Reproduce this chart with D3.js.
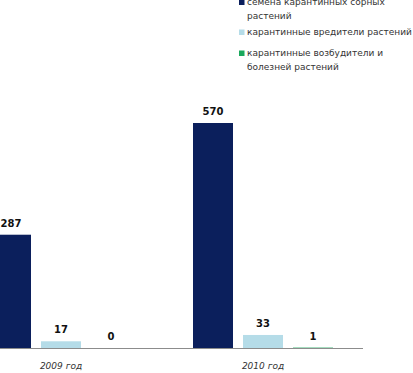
<!DOCTYPE html>
<html>
<head>
<meta charset="utf-8">
<script src="https://cdn.jsdelivr.net/npm/d3@7"></script>
<style>
  body { margin: 0; background: #fff; }
  svg { display: block; font-family: "DejaVu Sans", Verdana, sans-serif; }
</style>
</head>
<body>
<svg id="chart" width="413" height="373"></svg>
<script>
// data
var years = ["2009 год", "2010 год"];
var seriesNames = [
  "семена карантинных сорных растений",
  "карантинные вредители растений",
  "карантинные возбудители и болезней растений"
];
var seeds = [287, 570];
var pests = [17, 33];
var diseases = [0, 1];
var colors = ["#0b1f5c", "#b5dce8", "#1aa85c"];

var seriesValues = [seeds, pests, diseases];

var svg = d3.select("#chart");
var baseY = 348;

// scales
var x0 = d3.scaleBand().domain(years).range([-40, 364]).paddingInner(0);
var groupW = 140;
var x1 = d3.scaleBand().domain(d3.range(seriesNames.length))
  .range([0, groupW]).paddingInner(0.2).paddingOuter(0);
var y = d3.scaleLinear().domain([0, 570]).range([baseY, 123]);

var rows = [];
years.forEach(function(yr, i) {
  seriesValues.forEach(function(vals, s) {
    rows.push({year: yr, s: s, v: vals[i]});
  });
});

function barX(d) {
  return x0(d.year) + (x0.bandwidth() - groupW) / 2 + x1(d.s);
}

svg.append("g").selectAll("rect")
  .data(rows)
  .enter().append("rect")
  .attr("x", barX)
  .attr("y", function(d) { return y(d.v); })
  .attr("width", x1.bandwidth())
  .attr("height", function(d) { return baseY - y(d.v); })
  .attr("fill", function(d) { return colors[d.s]; });

// value labels
svg.append("g").selectAll("text")
  .data(rows)
  .enter().append("text")
  .attr("x", function(d) { return barX(d) + x1.bandwidth() / 2; })
  .attr("y", function(d) { return y(d.v) - 8; })
  .attr("text-anchor", "middle")
  .attr("font-size", 10)
  .attr("font-weight", "bold")
  .attr("fill", "#111")
  .text(function(d) { return d.v; });

// axis
var xAxis = d3.axisBottom(x0).tickSize(0).tickPadding(15);
var ax = svg.append("g").attr("transform", "translate(0," + baseY + ")").call(xAxis);
ax.select(".domain").attr("d", "M0,0.5H363").attr("stroke", "#8c8c8c");
ax.selectAll("text")
  .attr("font-size", 9)
  .attr("font-style", "italic")
  .attr("font-family", "DejaVu Sans, sans-serif")
  .attr("fill", "#333");

// legend
var legendX = 239, lineH = 13.5;
var legendY = [5, 35, 56];
var legend = svg.append("g");
seriesNames.forEach(function(name, i) {
  var g = legend.append("g").attr("transform", "translate(" + legendX + "," + legendY[i] + ")");
  g.append("rect").attr("x", 0).attr("y", -5.5).attr("width", 5.5).attr("height", 5.5)
    .attr("fill", colors[i]);
  var t = g.append("text").attr("x", 8).attr("y", 0)
    .attr("font-size", 9).attr("fill", "#333");
  // wrap words
  var words = name.split(" "), line = [];
  var ts = t.append("tspan").attr("x", 8).attr("dy", 0);
  words.forEach(function(w) {
    line.push(w);
    ts.text(line.join(" "));
    if (ts.node().getComputedTextLength() > 166 && line.length > 1) {
      line.pop();
      ts.text(line.join(" "));
      line = [w];
      ts = t.append("tspan").attr("x", 8).attr("dy", lineH).text(w);
    }
  });
});
</script>
</body>
</html>
